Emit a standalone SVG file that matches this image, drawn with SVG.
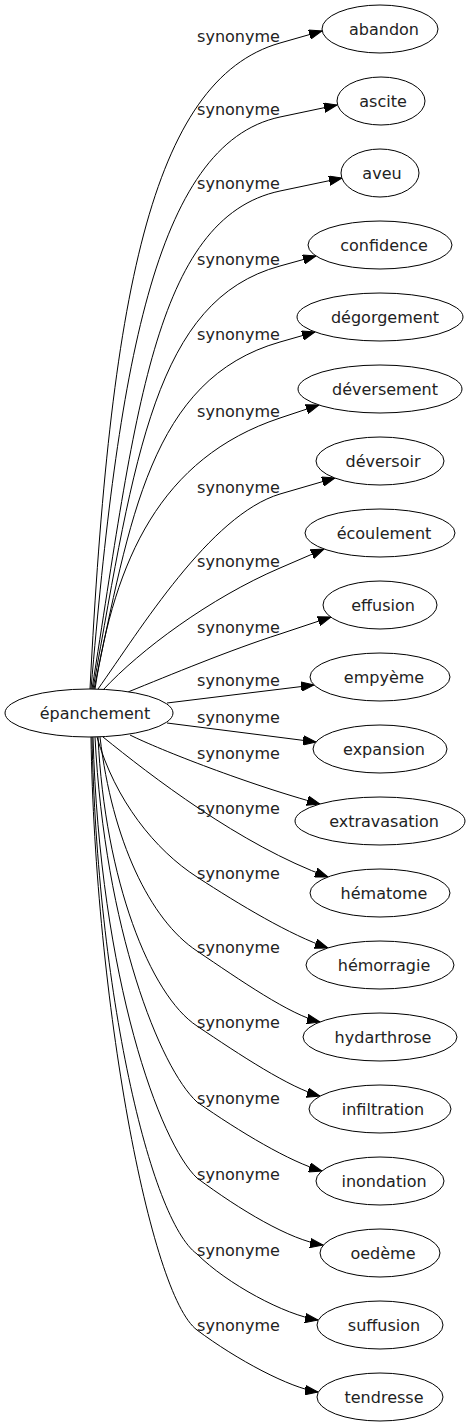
<svg xmlns="http://www.w3.org/2000/svg" width="469" height="1427" viewBox="0 0 469 1427">
<style>
.n ellipse{fill:#fff;stroke:#000;stroke-width:1}
.n text{font-family:"DejaVu Sans",Verdana,sans-serif;font-size:16px;fill:#222;text-anchor:middle}
.lbl{font-family:"DejaVu Sans",Verdana,sans-serif;font-size:16px;fill:#222;text-anchor:middle}
#edges path{fill:none;stroke:#000;stroke-width:1;marker-end:url(#arr)}
</style>
<defs>
<marker id="arr" markerWidth="14" markerHeight="10" refX="13" refY="5" orient="auto" markerUnits="userSpaceOnUse">
<path d="M0,0.3 L13,5 L0,9.7 z" fill="#000" stroke="#000" stroke-width="1"/>
</marker>
</defs>
<rect width="469" height="1427" fill="#fff"/>
<g id="edges">
<path d="M90,689 C110,300 150,80 280,43 L322,31"/>
<path d="M91,689 C118,375 153,144 280,117 L337,105"/>
<path d="M92,689 C135,420 153,218 280,191 L342,178"/>
<path d="M93,689 C135,456 155,300 280,266 L316,256"/>
<path d="M94,689 C130,520 150,379 280,342 L315,332"/>
<path d="M95,689 C115,560 160,458 280,418 L319,405"/>
<path d="M98,689 C140,630 210,515 280,494 L335,478"/>
<path d="M103,690 C140,650 210,598 280,568 L324,549"/>
<path d="M128,692 C170,675 230,650 280,634 L331,617"/>
<path d="M167,703 L314,685"/>
<path d="M167,723 L316,742"/>
<path d="M130,735 C160,750 250,785 320,804"/>
<path d="M103,737 C150,775 240,845 328,877"/>
<path d="M97,737 C115,800 155,850 197,877 C240,905 290,935 328,948"/>
<path d="M100,737 C112,840 150,920 197,951 C240,980 290,1015 320,1022"/>
<path d="M98,737 C105,880 150,995 197,1026 C240,1055 290,1088 320,1096"/>
<path d="M95,737 C105,930 160,1068 197,1102 C240,1132 290,1162 322,1171"/>
<path d="M93,737 C100,980 160,1143 197,1178 C240,1210 290,1240 323,1245"/>
<path d="M92,737 C97,990 150,1220 197,1254 C227,1284 285,1315 318,1320"/>
<path d="M91,737 C95,1000 150,1295 197,1330 C237,1360 290,1388 318,1392"/>
</g>
<g id="edge-labels">
<text class="lbl" x="238.5" y="42">synonyme</text>
<text class="lbl" x="238.5" y="115">synonyme</text>
<text class="lbl" x="238.5" y="189">synonyme</text>
<text class="lbl" x="238.5" y="265">synonyme</text>
<text class="lbl" x="238.5" y="340">synonyme</text>
<text class="lbl" x="238.5" y="417">synonyme</text>
<text class="lbl" x="238.5" y="493">synonyme</text>
<text class="lbl" x="238.5" y="567">synonyme</text>
<text class="lbl" x="238.5" y="633">synonyme</text>
<text class="lbl" x="238.5" y="686">synonyme</text>
<text class="lbl" x="238.5" y="723">synonyme</text>
<text class="lbl" x="238.5" y="759">synonyme</text>
<text class="lbl" x="238.5" y="814">synonyme</text>
<text class="lbl" x="238.5" y="879">synonyme</text>
<text class="lbl" x="238.5" y="953">synonyme</text>
<text class="lbl" x="238.5" y="1028">synonyme</text>
<text class="lbl" x="238.5" y="1104">synonyme</text>
<text class="lbl" x="238.5" y="1180">synonyme</text>
<text class="lbl" x="238.5" y="1256">synonyme</text>
<text class="lbl" x="238.5" y="1331">synonyme</text>
</g>
<g id="node-epanchement" class="n"><ellipse cx="89" cy="713" rx="84" ry="24"/><text x="95" y="719">épanchement</text></g>
<g id="node-abandon" class="n"><ellipse cx="380" cy="29" rx="58" ry="24"/><text x="384" y="35">abandon</text></g>
<g id="node-ascite" class="n"><ellipse cx="381" cy="101" rx="44" ry="24"/><text x="383" y="107">ascite</text></g>
<g id="node-aveu" class="n"><ellipse cx="380" cy="173" rx="39" ry="24"/><text x="382" y="179">aveu</text></g>
<g id="node-confidence" class="n"><ellipse cx="380" cy="245" rx="72" ry="24"/><text x="384" y="251">confidence</text></g>
<g id="node-degorgement" class="n"><ellipse cx="380" cy="317" rx="83" ry="24"/><text x="385" y="323">dégorgement</text></g>
<g id="node-deversement" class="n"><ellipse cx="380" cy="389" rx="82" ry="24"/><text x="385" y="395">déversement</text></g>
<g id="node-deversoir" class="n"><ellipse cx="380" cy="461" rx="64" ry="24"/><text x="383" y="467">déversoir</text></g>
<g id="node-ecoulement" class="n"><ellipse cx="380" cy="533" rx="75" ry="24"/><text x="384" y="539">écoulement</text></g>
<g id="node-effusion" class="n"><ellipse cx="380" cy="605" rx="57" ry="24"/><text x="383" y="611">effusion</text></g>
<g id="node-empyeme" class="n"><ellipse cx="380" cy="677" rx="70" ry="24"/><text x="384" y="683">empyème</text></g>
<g id="node-expansion" class="n"><ellipse cx="380" cy="749" rx="67" ry="24"/><text x="384" y="755">expansion</text></g>
<g id="node-extravasation" class="n"><ellipse cx="380" cy="821" rx="85" ry="24"/><text x="384" y="827">extravasation</text></g>
<g id="node-hematome" class="n"><ellipse cx="380" cy="893" rx="70" ry="24"/><text x="384" y="899">hématome</text></g>
<g id="node-hemorragie" class="n"><ellipse cx="380" cy="965" rx="74" ry="24"/><text x="384" y="971">hémorragie</text></g>
<g id="node-hydarthrose" class="n"><ellipse cx="380" cy="1037" rx="77" ry="24"/><text x="383" y="1043">hydarthrose</text></g>
<g id="node-infiltration" class="n"><ellipse cx="380" cy="1109" rx="71" ry="24"/><text x="383" y="1115">infiltration</text></g>
<g id="node-inondation" class="n"><ellipse cx="380" cy="1181" rx="64" ry="24"/><text x="384" y="1187">inondation</text></g>
<g id="node-oedeme" class="n"><ellipse cx="380" cy="1253" rx="60" ry="24"/><text x="383" y="1259">oedème</text></g>
<g id="node-suffusion" class="n"><ellipse cx="380" cy="1325" rx="63" ry="24"/><text x="384" y="1331">suffusion</text></g>
<g id="node-tendresse" class="n"><ellipse cx="380" cy="1397" rx="63" ry="24"/><text x="384" y="1403">tendresse</text></g>
</svg>
